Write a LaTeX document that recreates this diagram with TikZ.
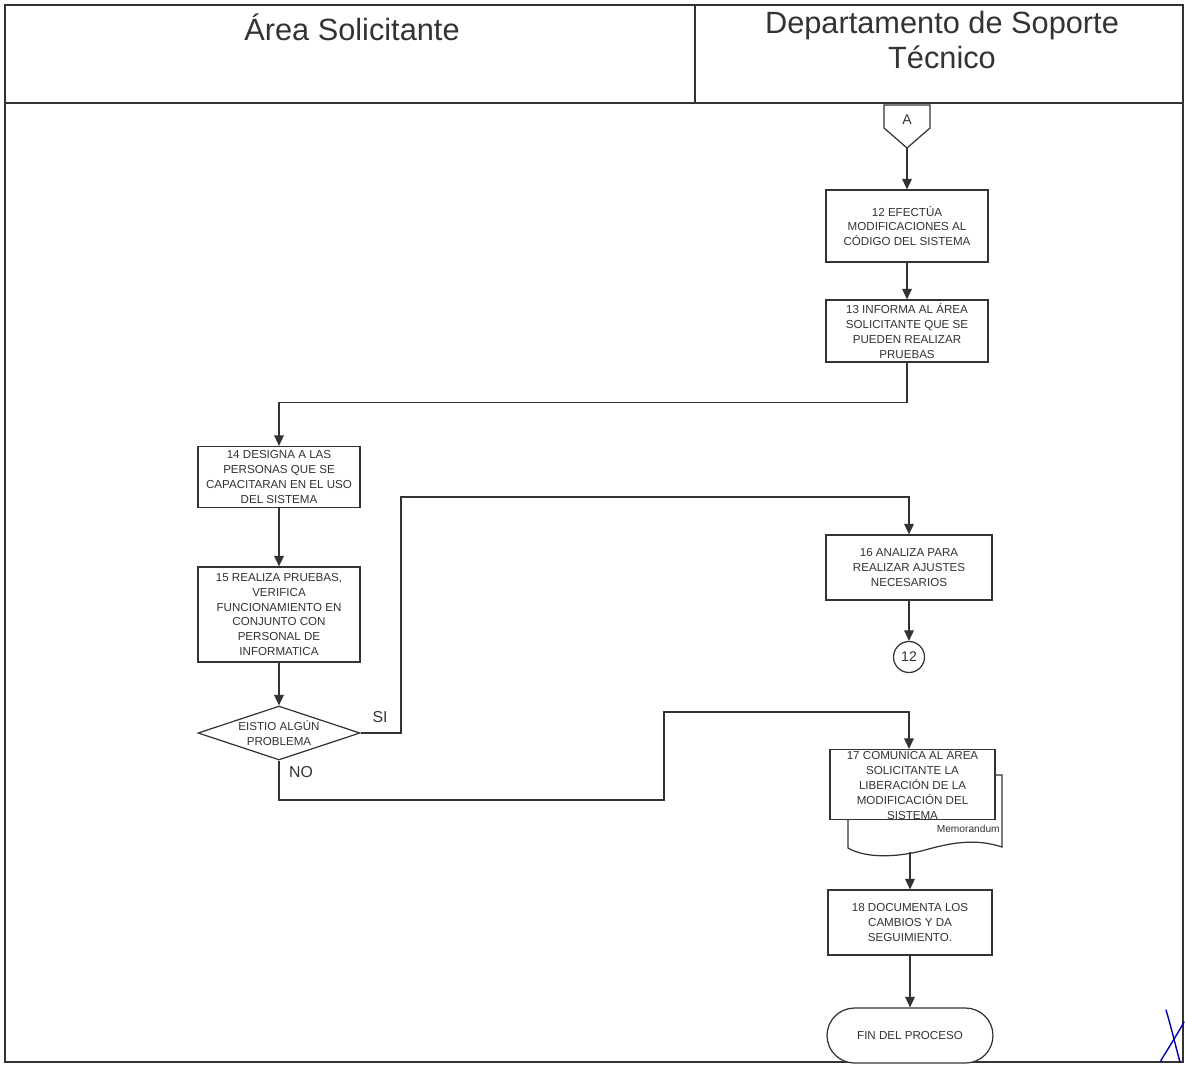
\documentclass[tikz,border=0pt]{standalone}
\usepackage{fontspec}
\setmainfont{Liberation Sans}
\usetikzlibrary{arrows.meta,shapes.geometric}
\definecolor{ink}{HTML}{333333}
\begin{document}
\begin{tikzpicture}[x={(0.02cm,0)},y={(0,-0.02cm)},
  line/.style={draw=ink,line width=0.7pt},
  arr/.style={line,-{Triangle[length=6pt,width=5.5pt]}},
  proc/.style={line,fill=white,rectangle,inner sep=0pt,align=center,text=ink,
    font=\fontsize{6.6}{8.5}\selectfont},
  hdr/.style={align=center,text=ink,font=\fontsize{17.5}{20}\selectfont}]
% page extent
\useasboundingbox (0,0) rectangle (1185,1065);
% lane frame
\draw[line] (5,5) rectangle (1183,1062);
\draw[line] (5,103) -- (1183,103);
\draw[line] (695,5) -- (695,103);
\node[hdr] (lane1) at (352,27) {Área Solicitante};
\node[hdr] (lane2) at (942,40) {Departamento de Soporte\\Técnico};

% off-page connector A
\draw[line] (884,105) -- (930,105) -- (930,128) -- (907,148) -- (884,128) -- cycle;
\node[text=ink,font=\fontsize{8}{9}\selectfont] (A) at (907,120) {A};
\coordinate (Abot) at (907,148);

% process boxes
\node[proc,minimum width=3.24cm,minimum height=1.44cm] (b12) at (907,226)
  {12 EFECTÚA\\MODIFICACIONES AL\\CÓDIGO DEL SISTEMA};
\node[proc,minimum width=3.24cm,minimum height=1.24cm] (b13) at (907,331)
  {13 INFORMA AL ÁREA\\SOLICITANTE QUE SE\\PUEDEN REALIZAR\\PRUEBAS};
\node[proc,minimum width=3.24cm,minimum height=1.22cm] (b14) at (279,477)
  {14 DESIGNA A LAS\\PERSONAS QUE SE\\CAPACITARAN EN EL USO\\DEL SISTEMA};
\node[proc,minimum width=3.24cm,minimum height=1.9cm] (b15) at (279,614.5)
  {15 REALIZA PRUEBAS,\\VERIFICA\\FUNCIONAMIENTO EN\\CONJUNTO CON\\PERSONAL DE\\INFORMATICA};
\node[proc,diamond,shape aspect=3.2,minimum width=3.24cm,minimum height=1.08cm] (d) at (279,733)
  {EISTIO ALGÚN\\PROBLEMA};
\node[proc,minimum width=3.32cm,minimum height=1.3cm] (b16) at (909,567.5)
  {16 ANALIZA PARA\\REALIZAR AJUSTES\\NECESARIOS};
\node[proc,circle,minimum size=0.62cm,font=\fontsize{8}{9}\selectfont] (c12) at (909,657) {12};

% document symbol behind step 17
\draw[line,fill=white] (848,775) -- (1002,775) -- (1002,847)
  .. controls (975,838) and (950,843) .. (925,850)
  .. controls (895,858) and (865,858) .. (848,848) -- cycle;
\coordinate (docbot) at (910,851.5);
\node[text=ink,anchor=east,inner sep=0pt,font=\fontsize{5.8}{7}\selectfont] (memo) at (1000,829) {Memorandum};
\node[proc,minimum width=3.3cm,minimum height=1.34cm] (b17) at (912.5,784.5)
  {17 COMUNICA AL ÁREA\\SOLICITANTE LA\\LIBERACIÓN DE LA\\MODIFICACIÓN DEL\\SISTEMA};

\node[proc,minimum width=3.28cm,minimum height=1.3cm] (b18) at (910,922.5)
  {18 DOCUMENTA LOS\\CAMBIOS Y DA\\SEGUIMIENTO.};
\node[proc,rounded corners=0.55cm,minimum width=3.32cm,minimum height=1.1cm] (fin) at (910,1035.5)
  {FIN DEL PROCESO};

% connectors
\draw[arr] (Abot) -- (b12.north);
\draw[arr] (b12) -- (b13);
\draw[arr] (b13.south) -- ++(0,40) -| (b14.north);
\draw[arr] (b14) -- (b15);
\draw[arr] (b15) -- (d.north);
\coordinate (si1) at (401,497);
\draw[arr] (d.east) -| (si1) -| (b16.north);
\node[text=ink,font=\fontsize{9}{10}\selectfont] (si) at (380,717) {SI};
\draw[arr] (b16) -- (c12);
\coordinate (no1) at (664,800);
\coordinate (no2) at (664,712);
\draw[arr] (d.south) |- (no1) -- (no2) -| (b17.north -| b16.north);
\node[text=ink,font=\fontsize{9}{10}\selectfont] (no) at (301,772) {NO};
\draw[arr] (docbot) -- (docbot |- b18.north);
\draw[arr] (b18) -- (fin);

% initial mark in the corner
\draw[blue!70!black,line width=0.8pt,line cap=round] (1166,1010) .. controls (1172,1030) and (1176,1048) .. (1180,1062);
\draw[blue!70!black,line width=0.8pt,line cap=round] (1184,1022) .. controls (1175,1038) and (1166,1052) .. (1160,1062);
\end{tikzpicture}
\end{document}
